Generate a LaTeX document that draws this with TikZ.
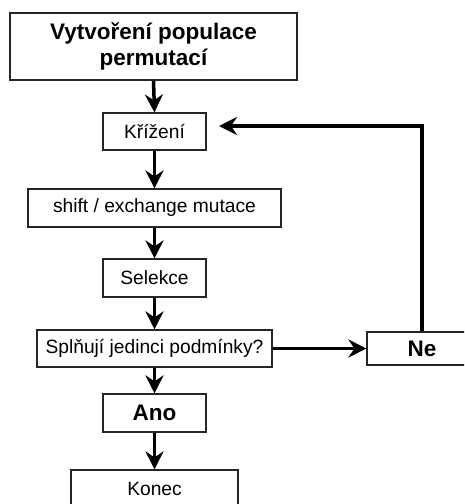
\documentclass[tikz,border=0pt]{standalone}
\usepackage{fontspec}
\setmainfont{Liberation Sans}
\usetikzlibrary{arrows.meta}
\begin{document}
\begin{tikzpicture}[x=1pt,y=-1pt,
  box/.style={draw=black!85, line width=1.2pt, fill=white, inner sep=0pt, align=center,
    font=\fontsize{19.2}{23}\selectfont},
  boldbox/.style={box, font=\fontsize{22.5}{26}\selectfont\bfseries},
  flow/.style={line width=3.5pt, -{Stealth[length=18pt,width=18pt,inset=6pt]}}]
\useasboundingbox (0,0) rectangle (464,504);
\clip (0,0) rectangle (464,504);
\node[boldbox, minimum width=287pt, minimum height=67pt] (top) at (153.5,46.5) {Vytvoření populace\\permutací};
\node[box, minimum width=103pt, minimum height=37pt] (kr) at (154.5,131.5) {Křížení};
\node[box, minimum width=253pt, minimum height=38pt] (sh) at (154.5,208) {shift / exchange mutace};
\node[box, minimum width=103pt, minimum height=38pt] (se) at (154.5,278) {Selekce};
\node[box, minimum width=235pt, minimum height=37pt] (sp) at (154.5,348.5) {Splňují jedinci podmínky?};
\node[boldbox, minimum width=103pt, minimum height=38pt] (ano) at (154.5,413) {Ano};
\node[box, minimum width=167pt, minimum height=37pt] (ko) at (154.5,488.5) {Konec};
\node[boldbox, minimum width=110pt, minimum height=33pt] (ne) at (422,348.5) {Ne};
\coordinate (krin) at (219,126);
\draw[flow] (top.south) -- (kr.north);
\draw[flow] (kr.south) -- (sh.north);
\draw[flow] (sh.south) -- (se.north);
\draw[flow] (se.south) -- (sp.north);
\draw[flow] (sp.south) -- (ano.north);
\draw[flow] (ano.south) -- (ko.north);
\draw[flow] (sp.east) -- (ne.west);
\draw[flow] (ne.north) |- (krin);
\end{tikzpicture}
\end{document}
